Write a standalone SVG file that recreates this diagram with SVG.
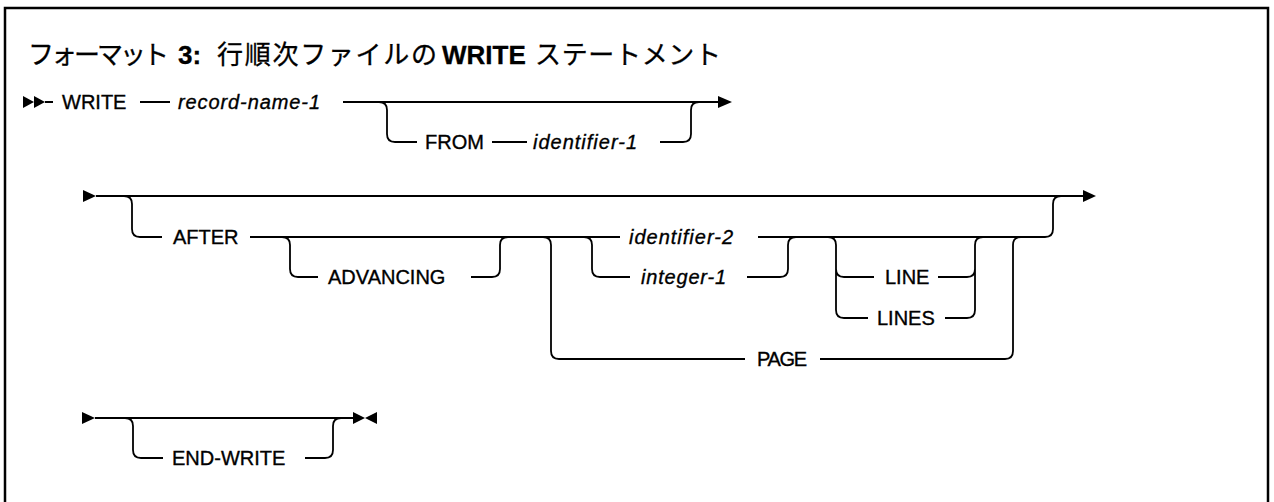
<svg xmlns="http://www.w3.org/2000/svg" width="1274" height="502" viewBox="0 0 1274 502">
<style>
.kw{font-family:"Liberation Sans","Noto Sans",sans-serif;font-size:20px;fill:#000;stroke:#000;stroke-width:0.35}
.var{font-family:"Liberation Sans","Noto Sans",sans-serif;font-size:20px;font-style:italic;fill:#000;stroke:#000;stroke-width:0.35}
.title{font-family:"Liberation Sans","Noto Sans CJK JP",sans-serif;font-size:26px;fill:#000;stroke:#000;stroke-width:0.3}
.b{font-weight:bold}
.ln{fill:none;stroke:#000;stroke-width:1.8;stroke-linejoin:round}
.ar{fill:#000}
</style>
<rect x="5" y="8" width="1263" height="520" fill="#fff" stroke="#000" stroke-width="2.5"/>
<g id="title">
<text class="title" y="64"><tspan x="28" textLength="141">フォーマット</tspan><tspan class="b" x="178">3:</tspan><tspan x="217" textLength="220">行順次ファイルの</tspan><tspan class="b" x="442">WRITE</tspan><tspan x="535" textLength="186">ステートメント</tspan></text>
</g>
<g id="connectors">
<!-- row 1 -->
<polygon class="ar" points="23,96 23,108 34,102"/>
<polygon class="ar" points="34,96 34,108 45,102"/>
<path class="ln" d="M45,102H53 M140,102H170 M343,102H720"/>
<polygon class="ar" points="718,96 718,108 732,102"/>
<path class="ln" d="M379,102Q387,102 387,110V134Q387,142 395,142H417 M492,142H527 M660,142H683Q691,142 691,134V110Q691,102 699,102"/>
<!-- row 2 -->
<polygon class="ar" points="83,190 83,202 96,196"/>
<path class="ln" d="M96,196H1085"/>
<polygon class="ar" points="1083,190 1083,202 1096,196"/>
<path class="ln" d="M124,196Q132,196 132,204V229Q132,237 140,237H162"/>
<path class="ln" d="M250,237H620 M758,237H1045Q1053,237 1053,229V204Q1053,196 1061,196"/>
<path class="ln" d="M282,237Q290,237 290,245V269Q290,277 298,277H318 M471,277H492Q500,277 500,269V245Q500,237 508,237"/>
<path class="ln" d="M584,237Q592,237 592,245V269Q592,277 600,277H630 M747,277H780Q788,277 788,269V245Q788,237 796,237"/>
<path class="ln" d="M828,237Q836,237 836,245V310Q836,318 844,318H868 M836,269Q836,277 844,277H874 M938,277H967Q975,277 975,269V245Q975,237 983,237 M945,318H967Q975,318 975,310V269"/>
<path class="ln" d="M543,237Q551,237 551,245V351Q551,359 559,359H745 M820,359H1005Q1013,359 1013,351V245Q1013,237 1021,237"/>
<!-- row 3 -->
<polygon class="ar" points="82,412 82,424 95,418"/>
<path class="ln" d="M95,418H353"/>
<path class="ln" d="M125,418Q133,418 133,426V450Q133,458 141,458H163 M305,458H325Q333,458 333,450V426Q333,418 341,418"/>
<polygon class="ar" points="353,412 353,424 365,418"/>
<polygon class="ar" points="377,412 377,424 365,418"/>
</g>
<g id="n-write"><text class="kw" x="62" y="109">WRITE</text></g>
<g id="n-record-name-1"><text class="var" x="178" y="109" textLength="142">record-name-1</text></g>
<g id="n-from"><text class="kw" x="425" y="149">FROM</text></g>
<g id="n-identifier-1"><text class="var" x="533" y="149" textLength="104">identifier-1</text></g>
<g id="n-after"><text class="kw" x="173" y="244">AFTER</text></g>
<g id="n-advancing"><text class="kw" x="328" y="284">ADVANCING</text></g>
<g id="n-identifier-2"><text class="var" x="629" y="244" textLength="104">identifier-2</text></g>
<g id="n-integer-1"><text class="var" x="641" y="284" textLength="85">integer-1</text></g>
<g id="n-line"><text class="kw" x="885" y="284">LINE</text></g>
<g id="n-lines"><text class="kw" x="877" y="325">LINES</text></g>
<g id="n-page"><text class="kw" x="757" y="366" textLength="50">PAGE</text></g>
<g id="n-end-write"><text class="kw" x="172" y="465">END-WRITE</text></g>
</svg>
